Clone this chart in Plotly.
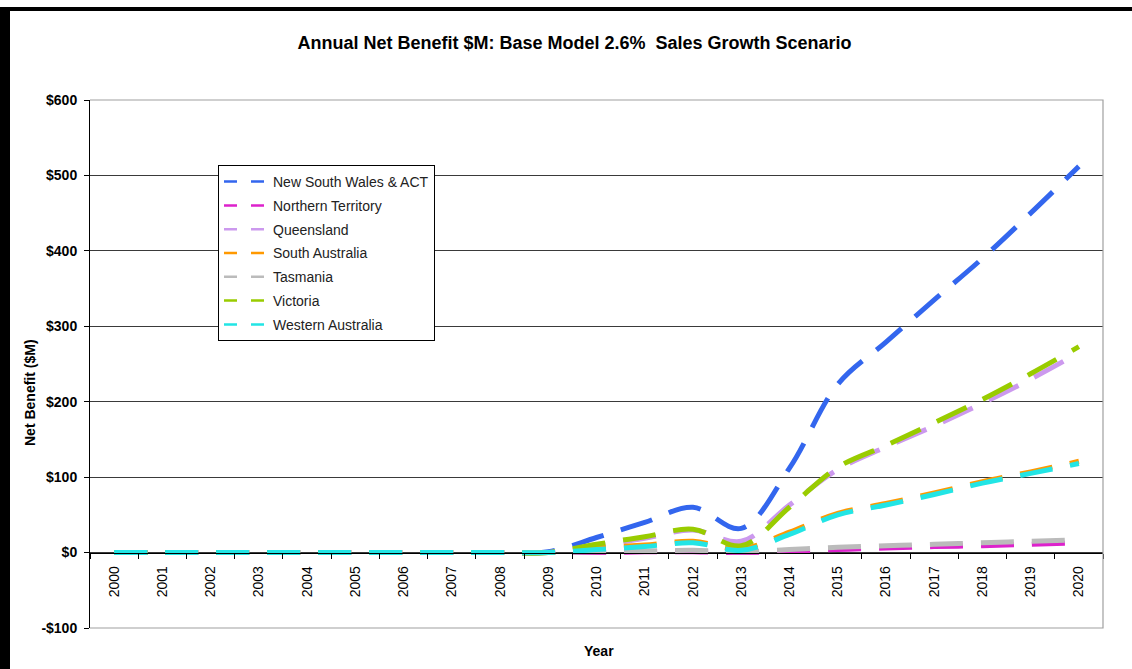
import plotly.graph_objects as go

YEARS = [str(y) for y in range(2000, 2021)]
NSW = [0, 0, 0, 0, 0, 0, 0, 0, 0, 1, 20, 40, 60, 32, 112, 223, 279, 335, 390, 450, 512]
NT = [0, 0, 0, 0, 0, 0, 0, 0, 0, 0, 0, 1, 1, 0, 2, 4, 6, 8, 9, 11, 13]
QLD = [0, 0, 0, 0, 0, 0, 0, 0, 0, 0, 9, 19, 30, 15, 63, 110, 140, 168, 198, 230, 265]
SA = [0, 0, 0, 0, 0, 0, 0, 0, 0, 0, 6, 10, 15, 5, 27, 52, 65, 79, 94, 107, 121]
TAS = [0, 0, 0, 0, 0, 0, 0, 0, 0, 0, 1, 2, 3, 1, 4, 7, 9, 11, 13, 15, 17]
VIC = [0, 0, 0, 0, 0, 0, 0, 0, 0, 0, 11, 21, 31, 9, 60, 113, 142, 172, 203, 237, 273]
WA = [0, 0, 0, 0, 0, 0, 0, 0, 0, 0, 4, 8, 13, 3, 24, 50, 63, 77, 92, 105, 118]

SERIES_NAMES = ["New South Wales & ACT", "Northern Territory", "Queensland",
                "South Australia", "Tasmania", "Victoria", "Western Australia"]
SERIES_VALUES = [NSW, NT, QLD, SA, TAS, VIC, WA]
SERIES_COLORS = ["#3366ee", "#dd22cc", "#cc99ee", "#ff9900", "#bbbbbb", "#99cc00", "#22e5e5"]

Y_TICKS = [-100, 0, 100, 200, 300, 400, 500, 600]
Y_LABELS = ["-$100", "$0", "$100", "$200", "$300", "$400", "$500", "$600"]

FONT = "Liberation Sans, Arial, sans-serif"

fig = go.Figure()
for name, vals, col in zip(SERIES_NAMES, SERIES_VALUES, SERIES_COLORS):
    fig.add_trace(go.Scatter(
        x=YEARS, y=vals, mode="lines", name=name, showlegend=False,
        line=dict(color=col, width=5, dash="33px,18px", shape="spline", smoothing=1),
        hoverinfo="x+y+name",
    ))
# legend entries (short dash style as in the reference legend)
for name, col in zip(SERIES_NAMES, SERIES_COLORS):
    fig.add_trace(go.Scatter(
        x=[None], y=[None], mode="lines", name=name, legendgroup=name,
        line=dict(color=col, width=2.5, dash="13px,14px"),
    ))

fig.update_layout(
    width=1132, height=669,
    margin=dict(l=90, r=29, t=100, b=41, pad=0),
    paper_bgcolor="white", plot_bgcolor="white",
    font=dict(family=FONT, size=14, color="black"),
    title=dict(text="<b>Annual Net Benefit $M: Base Model 2.6%  Sales Growth Scenario</b>",
               xref="container", yref="container", x=574.5 / 1132, y=1 - 43 / 669,
               xanchor="center", yanchor="middle",
               font=dict(family=FONT, size=18, color="black")),
    showlegend=True,
    legend=dict(x=(218 - 90) / 1013, y=(628 - 165) / 528, xanchor="left", yanchor="top",
                bgcolor="white", bordercolor="black", borderwidth=1,
                font=dict(family=FONT, size=14, color="#222"),
                itemwidth=44,
                tracegroupgap=2.6, itemclick=False, itemdoubleclick=False),
    xaxis=dict(type="category", range=[-0.5, 20.5], anchor="free", position=1 / 7,
               showline=True, linecolor="black", linewidth=1,
               ticks="outside", tickson="boundaries", ticklen=5, tickcolor="black",
               ticklabelstandoff=7,
               tickangle=-90, showgrid=False, zeroline=False,
               tickfont=dict(family=FONT, size=14, color="black")),
    yaxis=dict(range=[-100, 600], tickvals=Y_TICKS,
               ticktext=["<b>" + t + "</b>" for t in Y_LABELS],
               showline=True, linecolor="black", linewidth=1,
               ticks="outside", ticklen=5, tickcolor="black",
               ticklabelstandoff=4,
               showgrid=True, gridcolor="#3a3a3a", gridwidth=1, zeroline=False,
               tickfont=dict(family=FONT, size=14, color="black")),
    shapes=[
        # plot area border (top, right, bottom) in grey
        dict(type="path", xref="paper", yref="paper", path="M0,1 L1,1 L1,0 L0,0",
             line=dict(color="#a0a0a0", width=1.2), layer="above"),
        # outer black frame (left and top)
        dict(type="rect", xref="paper", yref="paper",
             x0=-92 / 1013, x1=-80 / 1013, y0=-0.1, y1=(628 - 7) / 528,
             fillcolor="black", line=dict(width=0)),
        dict(type="rect", xref="paper", yref="paper",
             x0=-88 / 1013, x1=1.05, y0=(628 - 11) / 528, y1=(628 - 7) / 528,
             fillcolor="black", line=dict(width=0)),
    ],
    annotations=[
        dict(text="<b>Net Benefit ($M)</b>", xref="paper", yref="paper",
             x=(30 - 90) / 1013, y=(628 - 393) / 528, textangle=-90, showarrow=False,
             xanchor="center", yanchor="middle", font=dict(family=FONT, size=14, color="black")),
        dict(text="<b>Year</b>", xref="paper", yref="paper",
             x=(599 - 90) / 1013, y=(628 - 651) / 528, showarrow=False,
             xanchor="center", yanchor="middle", font=dict(family=FONT, size=14, color="black")),
    ],
)

fig.write_html("out.html", config={"displayModeBar": False},
               post_script="document.body.style.margin='0';document.body.style.overflow='hidden';")
